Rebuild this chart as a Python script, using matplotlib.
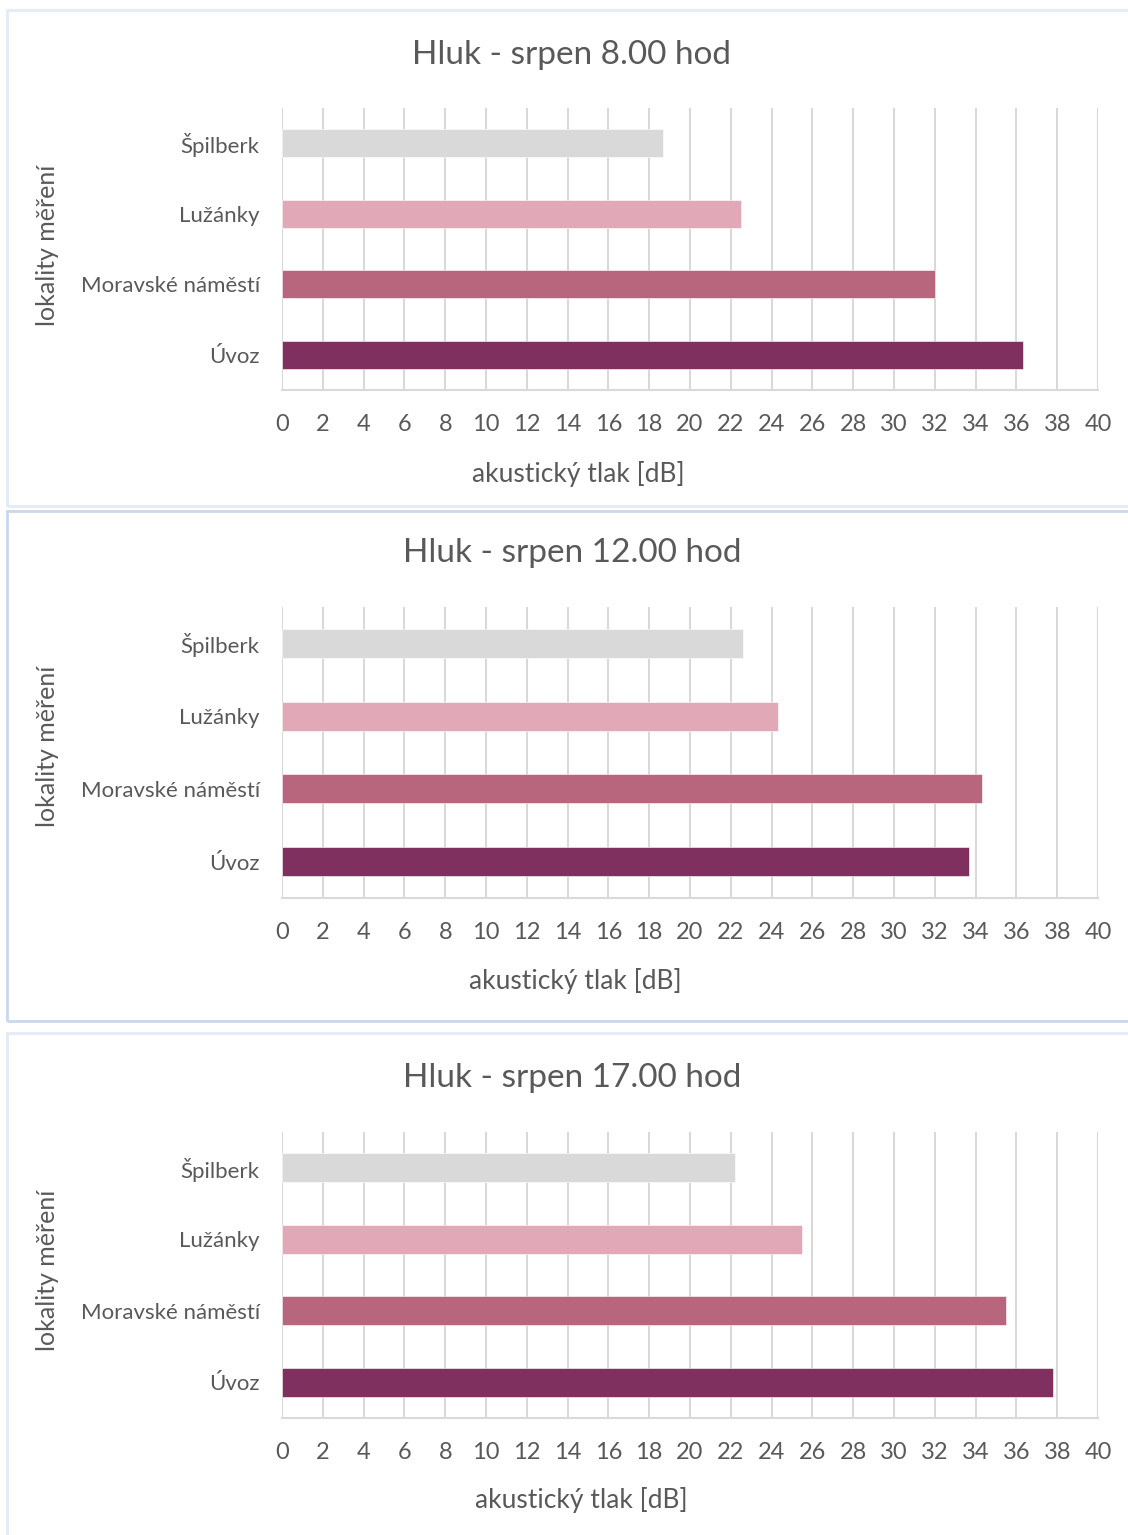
import matplotlib
matplotlib.use('Agg')
import matplotlib.pyplot as plt
from matplotlib.patches import Rectangle

plt.rcParams['font.family'] = ['Lato', 'DejaVu Sans']

# measuring sites (top to bottom) and their colours
lokality = ['Špilberk', 'Lužánky', 'Moravské náměstí', 'Úvoz']
barvy = ['#d9d9d9', '#e1a8b7', '#b8657e', '#80305f']

# noise in August at three times of day [dB]
hluk_8 = [18.7, 22.5, 32.0, 36.3]
hluk_12 = [22.6, 24.3, 34.3, 33.7]
hluk_17 = [22.2, 25.5, 35.5, 37.8]

titulky = ['Hluk - srpen 8.00 hod', 'Hluk - srpen 12.00 hod', 'Hluk - srpen 17.00 hod']
hodnoty = [hluk_8, hluk_12, hluk_17]
x_ticks = list(range(0, 41, 2))

W, H = 1128, 1535
fig = plt.figure(figsize=(W / 100, H / 100), dpi=100)
fig.patch.set_facecolor('white')

# pixel layout of each panel: frame (top, bottom), axes (top, bottom), title y, xlabel (x, y), ylabel y
panely = [
    dict(frame=(10, 506), ax=(108, 390), title=55, xlab=(578, 474), ylab=245, edge='#e4ebf5'),
    dict(frame=(511, 1021), ax=(607, 898), title=553, xlab=(575, 981), ylab=746, edge='#c9d8ec'),
    dict(frame=(1033, 1540), ax=(1132, 1418), title=1078, xlab=(581, 1500), ylab=1270, edge='#e4ebf5'),
]
ax_left, ax_right = 282, 1098
sedy = '#595959'

def fx(px):
    return px / W

def fy(py):
    return 1 - py / H

for p, titulek, data in zip(panely, titulky, hodnoty):
    t, b = p['frame']
    fig.patches.append(Rectangle((fx(7), fy(b)), fx(W + 10 - 7), (b - t) / H,
                                 transform=fig.transFigure, facecolor='none',
                                 edgecolor=p['edge'], linewidth=2, zorder=-1))
    at, ab = p['ax']
    ax = fig.add_axes([fx(ax_left), fy(ab), fx(ax_right - ax_left), (ab - at) / H])
    ax.barh(range(len(lokality)), data, height=0.4, color=barvy,
            edgecolor='white', linewidth=0.4, zorder=3)
    ax.set_xlim(0, 40)
    ax.set_ylim(3.5, -0.5)
    ax.set_xticks(x_ticks)
    ax.set_yticks(range(len(lokality)))
    ax.set_yticklabels(lokality)
    ax.grid(axis='x', color='#d9d9d9', linewidth=1.5, zorder=0)
    ax.tick_params(axis='both', length=0, labelcolor=sedy)
    ax.tick_params(axis='x', pad=17, labelsize=17)
    ax.tick_params(axis='y', pad=16, labelsize=16)
    for s in ['top', 'right', 'left']:
        ax.spines[s].set_visible(False)
    ax.spines['bottom'].set_color('#d9d9d9')
    ax.spines['bottom'].set_linewidth(1.5)
    ax.set_facecolor('none')

    fig.text(fx(572), fy(p['title']), titulek,
             ha='center', va='center', fontsize=24, color=sedy)
    fig.text(fx(p['xlab'][0]), fy(p['xlab'][1]), 'akustický tlak [dB]',
             ha='center', va='center', fontsize=19, color=sedy)
    fig.text(fx(48), fy(p['ylab']), 'lokality měření', rotation=90,
             ha='center', va='center', fontsize=18, color=sedy)

fig.savefig('out.png', dpi=100, facecolor='white')
